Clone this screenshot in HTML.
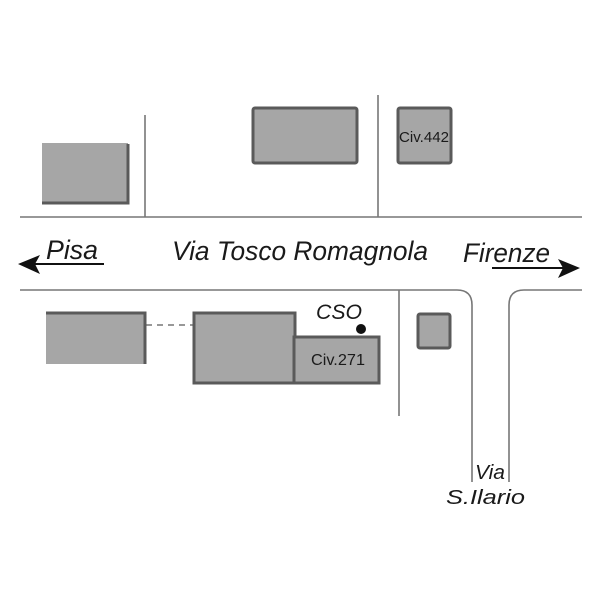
<!DOCTYPE html>
<html><head><meta charset="utf-8"><style>
html,body{margin:0;padding:0;background:#fff;width:600px;height:600px;overflow:hidden}
svg{display:block}
text{font-family:"Liberation Sans",sans-serif;fill:#1a1a1a}
</style></head><body>
<svg width="600" height="600" viewBox="0 0 600 600" xmlns="http://www.w3.org/2000/svg">
<g stroke="#777" stroke-width="1.6" fill="none">
<line x1="20" y1="217" x2="582" y2="217"/>
<line x1="145" y1="115" x2="145" y2="217"/>
<line x1="378" y1="95" x2="378" y2="217"/>
<path d="M20 290 H457 Q472 290 472 305 V482"/>
<path d="M582 290 H524 Q509 290 509 305 V482"/>
<line x1="399" y1="290" x2="399" y2="416"/>
<line x1="146" y1="325" x2="193" y2="325" stroke-dasharray="6,5"/>
</g>
<g fill="#a6a6a6" stroke="#5a5a5a" stroke-width="3">
<rect x="253" y="108" width="104" height="55" rx="2"/>
<rect x="398" y="108" width="53" height="55" rx="2"/>
<rect x="418" y="314" width="32" height="34" rx="2"/>
<rect x="194" y="313" width="101" height="70"/>
<rect x="294" y="337" width="85" height="46"/>
</g>
<rect x="42" y="143" width="86" height="61" fill="#a6a6a6"/>
<path d="M42 203 H128 V144" stroke="#5a5a5a" stroke-width="3" fill="none"/>
<rect x="46" y="312" width="100" height="52" fill="#a6a6a6"/>
<path d="M46 313 H145 V364" stroke="#5a5a5a" stroke-width="3" fill="none"/>
<circle cx="361" cy="329" r="5" fill="#111"/>
<text x="399" y="142" font-size="15" textLength="50" lengthAdjust="spacingAndGlyphs">Civ.442</text>
<text x="311" y="365" font-size="15.5" textLength="54" lengthAdjust="spacingAndGlyphs">Civ.271</text>
<text x="316" y="319" font-size="21" font-style="italic" textLength="46" lengthAdjust="spacingAndGlyphs">CSO</text>
<text x="46" y="259" font-size="27" font-style="italic" textLength="52" lengthAdjust="spacingAndGlyphs">Pisa</text>
<text x="172" y="260" font-size="27" font-style="italic" textLength="256" lengthAdjust="spacingAndGlyphs">Via Tosco Romagnola</text>
<text x="463" y="262" font-size="27" font-style="italic" textLength="87" lengthAdjust="spacingAndGlyphs">Firenze</text>
<text x="475" y="479" font-size="20" font-style="italic" textLength="30" lengthAdjust="spacingAndGlyphs">Via</text>
<text x="446" y="504" font-size="20" font-style="italic" textLength="79" lengthAdjust="spacingAndGlyphs">S.Ilario</text>
<line x1="30" y1="264" x2="104" y2="264" stroke="#111" stroke-width="2"/>
<path d="M18 264 L40 255 L35 264 L40 274 Z" fill="#111"/>
<line x1="492" y1="268" x2="566" y2="268" stroke="#111" stroke-width="2"/>
<path d="M580 268 L558 259 L563 268 L558 278 Z" fill="#111"/>
</svg>
</body></html>
